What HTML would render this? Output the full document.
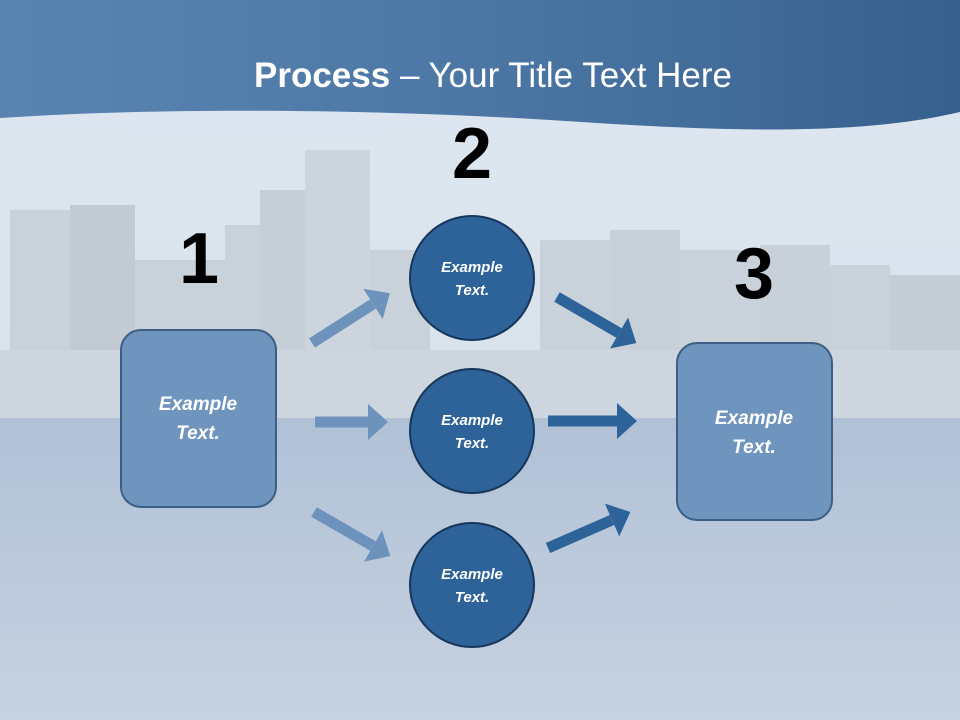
<!DOCTYPE html>
<html><head><meta charset="utf-8"><style>
html,body{margin:0;padding:0;width:960px;height:720px;overflow:hidden}
svg{display:block}
</style></head><body>
<svg width="960" height="720" viewBox="0 0 960 720" xmlns="http://www.w3.org/2000/svg">
<defs>
<linearGradient id="sky" x1="0" y1="0" x2="0" y2="1">
<stop offset="0" stop-color="#dfe8f1"/><stop offset="1" stop-color="#d3dee9"/></linearGradient>
<linearGradient id="water" x1="0" y1="0" x2="0" y2="1">
<stop offset="0" stop-color="#b0c1d6"/><stop offset="1" stop-color="#c7d2e1"/></linearGradient>
<linearGradient id="ban" x1="0" y1="0" x2="1" y2="0">
<stop offset="0" stop-color="#5a84b0"/><stop offset="0.5" stop-color="#4c77a5"/><stop offset="1" stop-color="#37608e"/></linearGradient>
<marker id="al" markerWidth="20" markerHeight="36" refX="0" refY="18" orient="auto" markerUnits="userSpaceOnUse"><path d="M0,0 L20,18 L0,36 Z" fill="#6d92bb"/></marker>
<marker id="ad" markerWidth="20" markerHeight="36" refX="0" refY="18" orient="auto" markerUnits="userSpaceOnUse"><path d="M0,0 L20,18 L0,36 Z" fill="#2e6399"/></marker>
</defs>
<rect width="960" height="720" fill="url(#sky)"/>
<g fill="#c9d1da">
<rect x="10" y="210" width="60" height="210"/><rect x="70" y="205" width="65" height="215" fill="#c2cad3"/>
<rect x="135" y="260" width="90" height="160"/><rect x="225" y="225" width="40" height="195"/>
<rect x="260" y="190" width="60" height="230" fill="#c6ced7"/><rect x="305" y="150" width="65" height="270" fill="#ccd4dd"/>
<rect x="370" y="250" width="60" height="170"/><rect x="540" y="240" width="70" height="180"/>
<rect x="610" y="230" width="70" height="190" fill="#c7cfd8"/><rect x="680" y="250" width="80" height="170"/>
<rect x="760" y="245" width="70" height="175" fill="#c8d0d9"/><rect x="830" y="265" width="60" height="155"/>
<rect x="890" y="275" width="70" height="145" fill="#c4ccd5"/>
</g>
<rect x="0" y="350" width="960" height="70" fill="#cdd5de"/>
<rect x="0" y="418" width="960" height="302" fill="url(#water)"/>
<path d="M0,0 H960 V112 C850,138 700,130 550,120 C350,108 150,108 0,118 Z" fill="url(#ban)"/>
<text x="493" y="87" text-anchor="middle" font-family="Liberation Sans, sans-serif" font-size="35" fill="#fff"><tspan font-weight="bold">Process</tspan> – Your Title Text Here</text>
<g font-family="Liberation Sans, sans-serif" font-weight="bold" font-size="72" fill="#000" text-anchor="middle">
<text x="199" y="283">1</text><text x="472" y="178">2</text><text x="754" y="298">3</text></g>
<g stroke-width="11" fill="none">
<line x1="312" y1="343" x2="373" y2="304" stroke="#6d92bb" marker-end="url(#al)"/>
<line x1="315" y1="422" x2="368" y2="422" stroke="#6d92bb" marker-end="url(#al)"/>
<line x1="314" y1="512" x2="373" y2="546" stroke="#6d92bb" marker-end="url(#al)"/>
<line x1="557" y1="297" x2="619" y2="333" stroke="#2e6399" marker-end="url(#ad)"/>
<line x1="548" y1="421" x2="617" y2="421" stroke="#2e6399" marker-end="url(#ad)"/>
<line x1="548" y1="548" x2="612" y2="520" stroke="#2e6399" marker-end="url(#ad)"/>
</g>
<rect x="121" y="330" width="155" height="177" rx="20" fill="#6f94bd" stroke="#3e5f85" stroke-width="2"/>
<rect x="677" y="343" width="155" height="177" rx="20" fill="#6f94bd" stroke="#3e5f85" stroke-width="2"/>
<g fill="#2e6399" stroke="#173659" stroke-width="2">
<circle cx="472" cy="278" r="62"/><circle cx="472" cy="431" r="62"/><circle cx="472" cy="585" r="62"/></g>
<g font-family="Liberation Sans, sans-serif" font-weight="bold" font-style="italic" fill="#fff" text-anchor="middle">
<g font-size="19"><text x="198" y="410">Example</text><text x="198" y="439">Text.</text>
<text x="754" y="424">Example</text><text x="754" y="453">Text.</text></g>
<g font-size="15"><text x="472" y="272">Example</text><text x="472" y="295">Text.</text>
<text x="472" y="425">Example</text><text x="472" y="448">Text.</text>
<text x="472" y="579">Example</text><text x="472" y="602">Text.</text></g>
</g>
</svg>
</body></html>
